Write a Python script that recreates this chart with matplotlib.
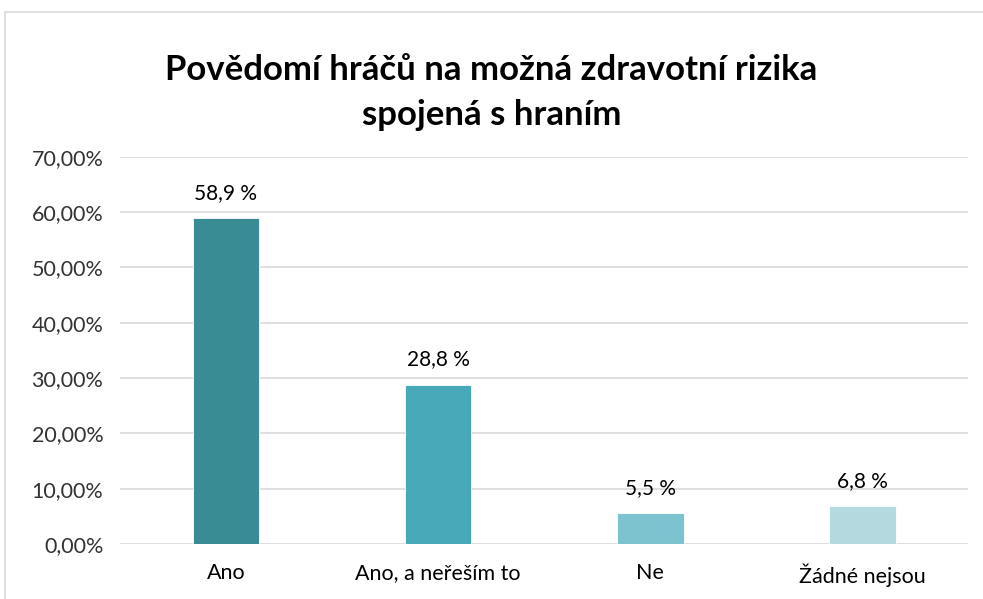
import matplotlib.pyplot as plt
from matplotlib.ticker import FuncFormatter
from matplotlib.patches import Rectangle

categories = ["Ano", "Ano, a neřeším to", "Ne", "Žádné nejsou"]
values = [58.9, 28.8, 5.5, 6.8]
labels = ["58,9 %", "28,8 %", "5,5 %", "6,8 %"]
colors = ["#3a8c94", "#47a9b8", "#7dc3cf", "#b4d9df"]

plt.rcParams['font.family'] = ['Lato', 'DejaVu Sans']

fig = plt.figure(figsize=(9.83, 5.99), dpi=100)
ax = fig.add_axes([0.122, 0.092, 0.863, 0.646])

# light frame around the chart area
fig.patches.append(Rectangle((0.005, -0.01), 1.1, 0.99, transform=fig.transFigure,
                             fill=False, edgecolor="#d9d9d9", linewidth=1.2))

x = range(len(categories))
bars = ax.bar(x, values, width=0.315, color=colors, edgecolor="white", linewidth=0.6, zorder=3)

for b, lab in zip(bars, labels):
    ax.annotate(lab, (b.get_x() + b.get_width() / 2, b.get_height()),
                xytext=(0, 11), textcoords="offset points",
                ha="center", va="bottom", fontsize=15, color="#000000")

ax.set_ylim(0, 70)
ax.set_xlim(-0.5, 3.5)
ax.set_yticks(range(0, 71, 10))
ax.yaxis.set_major_formatter(FuncFormatter(lambda v, p: f"{v:.2f}".replace(".", ",") + "%"))
ax.set_xticks(list(x))
ax.set_xticklabels(categories)
ax.tick_params(axis="both", length=0, labelsize=15.5, colors="#333333")
ax.tick_params(axis="x", pad=14, colors="#000000")
ax.tick_params(axis="y", pad=12)
ax.grid(axis="y", color="#d9d9d9", linewidth=1.2, zorder=0)
for s in ax.spines.values():
    s.set_visible(False)

fig.text(0.5, 0.845, "Povědomí hráčů na možná zdravotní rizika\nspojená s hraním",
         ha="center", va="center", fontsize=25, fontweight="bold", linespacing=1.5)

fig.savefig("out.png", dpi=100)
